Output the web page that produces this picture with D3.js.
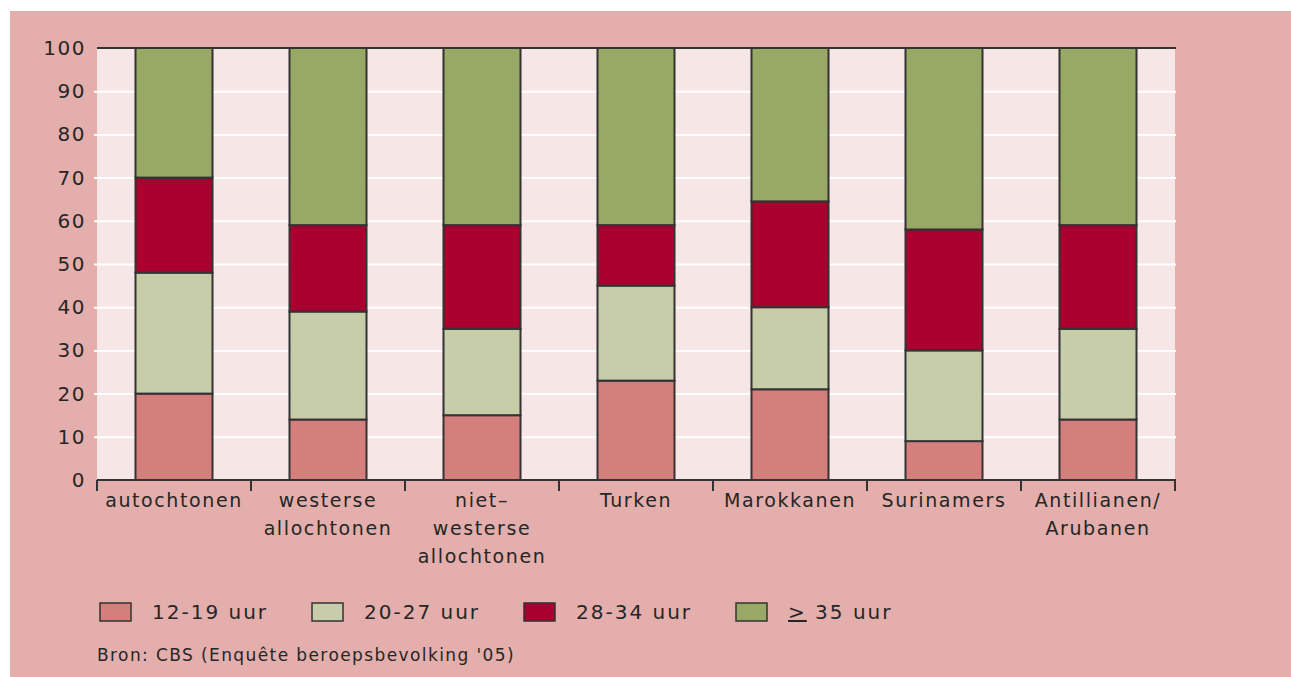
<!DOCTYPE html>
<html>
<head>
<meta charset="utf-8">
<script src="https://cdnjs.cloudflare.com/ajax/libs/d3/7.8.5/d3.min.js"></script>
<style>
  body { margin: 0; background: #ffffff; }
  svg { display: block; }
</style>
</head>
<body>
<script>
// categories and series (percentages per working-hours class)
var categories = ["autochtonen", "westerse\nallochtonen", "niet\u2013\nwesterse\nallochtonen",
                  "Turken", "Marokkanen", "Surinamers", "Antillianen/\nArubanen"];
var series = ["12-19 uur", "20-27 uur", "28-34 uur", "35 uur"];
var h12_19 = [20, 14, 15, 23, 21, 9, 14];
var h20_27 = [28, 25, 20, 22, 19, 21, 21];
var h28_34 = [22, 20, 24, 14, 24.5, 28, 24];
var h35plus = [30, 41, 41, 41, 35.5, 42, 41];
var yTicks = [0, 10, 20, 30, 40, 50, 60, 70, 80, 90, 100];
var colors = ["#d47f7c", "#c7cda9", "#a90030", "#97a964"];

var W = 1291, H = 677;
var margin = {top: 48, left: 97},
    width = 1175 - 97,
    height = 480 - 48;

var font = "'DejaVu Sans', Verdana, sans-serif";

var svg = d3.select("body").append("svg")
    .attr("width", W).attr("height", H);

// pink panel
svg.append("rect")
    .attr("x", 10).attr("y", 11)
    .attr("width", W - 10).attr("height", H - 11)
    .attr("fill", "#e3aeab");

var g = svg.append("g")
    .attr("transform", "translate(" + margin.left + "," + margin.top + ")");

// build table for the stack
var data = categories.map(function(c, i) {
    return {cat: c, s0: h12_19[i], s1: h20_27[i], s2: h28_34[i], s3: h35plus[i]};
});
var stack = d3.stack().keys(["s0", "s1", "s2", "s3"]);
var layers = stack(data);

var x = d3.scaleBand().domain(categories).range([0, width])
    .paddingInner(0.5).paddingOuter(0.25);
var xEdges = d3.scaleBand().domain(categories).range([0, width]);
var y = d3.scaleLinear().domain([0, 100]).range([height, 0]);

// plot background
g.append("rect")
    .attr("width", width).attr("height", height)
    .attr("fill", "#f6e7e6");

// gridlines + y axis
g.append("g")
    .call(d3.axisLeft(y).tickValues(yTicks).tickSize(-width - 1).tickPadding(11))
    .call(function(a) {
        a.select(".domain").remove();
        a.selectAll(".tick line")
            .attr("x1", -3)
            .attr("stroke", "#ffffff")
            .attr("stroke-width", 2);
        a.selectAll(".tick text")
            .style("font-family", font)
            .style("font-size", "20px")
            .style("letter-spacing", "1.5px")
            .attr("fill", "#262626");
        a.selectAll(".tick").filter(function(d) { return d === 0 || d === 100; })
            .select("line").remove();
    });

// bars
g.selectAll(".layer")
    .data(layers)
    .enter().append("g")
    .attr("fill", function(d, i) { return colors[i]; })
    .selectAll("rect")
    .data(function(d) { return d; })
    .enter().append("rect")
    .attr("x", function(d) { return x(d.data.cat); })
    .attr("y", function(d) { return y(d[1]); })
    .attr("width", x.bandwidth())
    .attr("height", function(d) { return y(d[0]) - y(d[1]); })
    .attr("stroke", "#333333")
    .attr("stroke-width", 2);

// top line
g.append("line")
    .attr("x1", 0).attr("x2", width + 1)
    .attr("y1", 0).attr("y2", 0)
    .attr("stroke", "#333333").attr("stroke-width", 2);

// x axis baseline and boundary ticks
var xa = g.append("g").attr("transform", "translate(0," + height + ")");
xa.append("line")
    .attr("x1", 0).attr("x2", width + 1)
    .attr("stroke", "#333333").attr("stroke-width", 2);
xa.selectAll(".bt")
    .data(categories.map(function(c) { return xEdges(c); }).concat([width]))
    .enter().append("line")
    .attr("x1", function(d) { return d; }).attr("x2", function(d) { return d; })
    .attr("y1", 0).attr("y2", 11)
    .attr("stroke", "#333333").attr("stroke-width", 2);

// x labels
var lab = xa.selectAll(".xl")
    .data(categories)
    .enter().append("text")
    .attr("text-anchor", "middle")
    .attr("fill", "#262626")
    .style("font-family", font)
    .style("font-size", "19px")
    .style("letter-spacing", "1.6px")
    .attr("transform", function(d) { return "translate(" + (x(d) + x.bandwidth() / 2) + ",27)"; });
lab.selectAll("tspan")
    .data(function(d) { return d.split("\n"); })
    .enter().append("tspan")
    .attr("x", 0)
    .attr("dy", function(d, i) { return i === 0 ? 0 : 28; })
    .text(function(d) { return d; });

// legend
var leg = svg.append("g").attr("transform", "translate(100,603)");
var li = leg.selectAll(".li")
    .data(series)
    .enter().append("g")
    .attr("transform", function(d, i) { return "translate(" + (i * 212) + ",0)"; });
li.append("rect")
    .attr("width", 31).attr("height", 18)
    .attr("fill", function(d, i) { return colors[i]; })
    .attr("stroke", "#333333").attr("stroke-width", 1.5);
var lt = li.append("text")
    .attr("x", 52).attr("y", 16)
    .attr("fill", "#262626")
    .style("font-family", font)
    .style("font-size", "20px")
    .style("letter-spacing", "2px");
lt.filter(function(d, i) { return i === 3; })
    .append("tspan")
    .style("text-decoration", "underline")
    .text(">");
lt.append("tspan")
    .text(function(d, i) { return i === 3 ? " " + d : d; });

// source
svg.append("text")
    .attr("x", 97).attr("y", 661)
    .attr("fill", "#262626")
    .style("font-family", font)
    .style("font-size", "17px")
    .style("letter-spacing", "1.4px")
    .text("Bron: CBS (Enquête beroepsbevolking '05)");
</script>
</body>
</html>
